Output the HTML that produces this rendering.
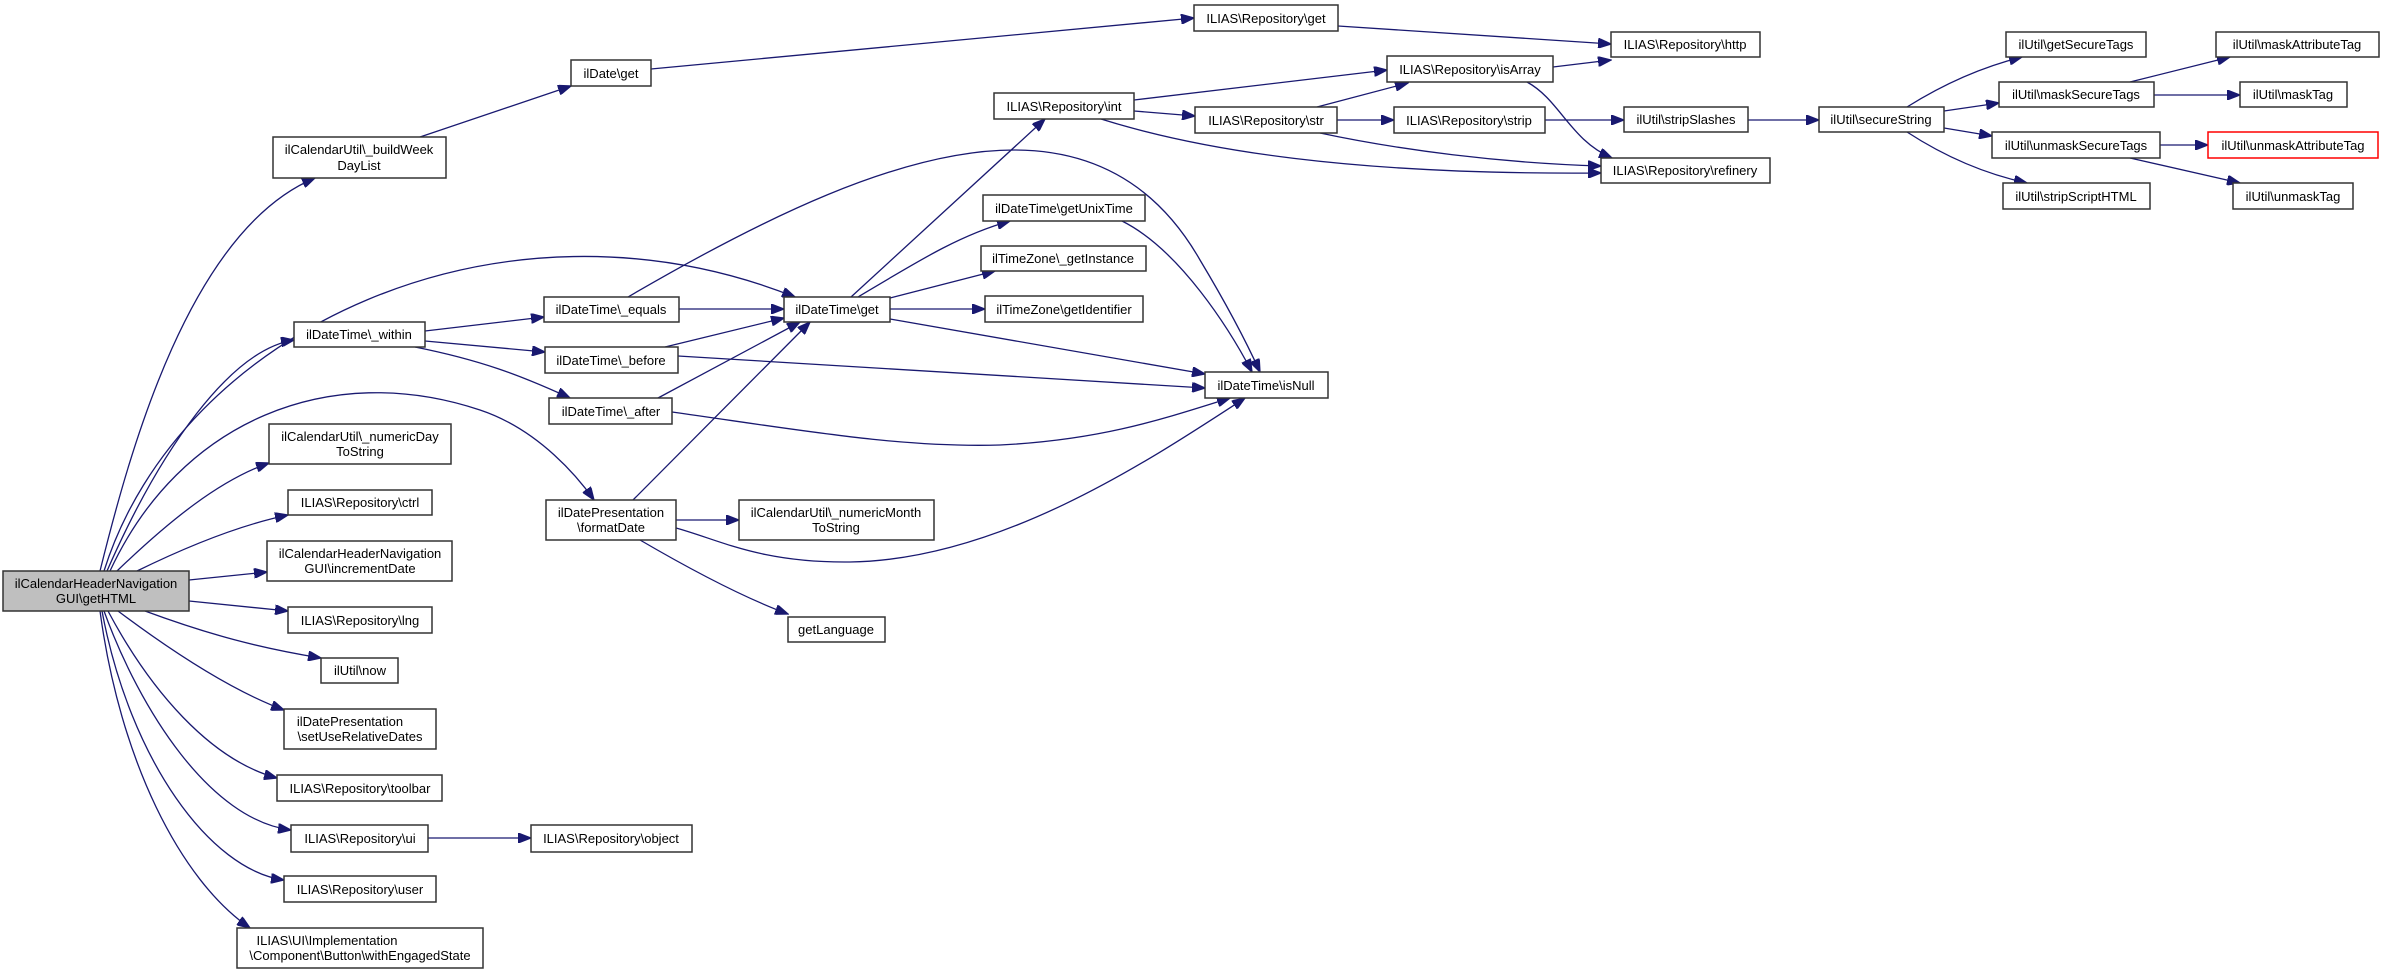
<!DOCTYPE html>
<html><head><meta charset="utf-8"><style>
html,body{margin:0;padding:0;background:#fff}
svg{display:block}
text{font-family:"Liberation Sans",sans-serif;font-size:13px;fill:#000;text-anchor:middle}
rect{fill:#fff;stroke:#333;stroke-width:1.5}
path{fill:none;stroke:#191970;stroke-width:1.3}
</style></head><body>
<svg width="2383" height="974" viewBox="0 0 2383 974" xmlns="http://www.w3.org/2000/svg">
<defs><marker id="a" markerUnits="userSpaceOnUse" markerWidth="14" markerHeight="10" refX="13" refY="5" orient="auto"><path d="M0,0 L13,5 L0,10 Z" style="fill:#191970;stroke:#191970"/></marker></defs>
<g marker-end="url(#a)">
<path d="M100,571 C130,450 190,230 315,178"/>
<path d="M104,571 C180,330 500,180 795,297"/>
<path d="M107,571 C160,450 230,350 294,340"/>
<path d="M110,571 C180,420 330,360 480,410 C540,430 580,480 594,500"/>
<path d="M117,571 C170,520 220,480 269,463"/>
<path d="M137,571 C190,545 240,525 288,515"/>
<path d="M189,580 L267,572"/>
<path d="M189,601 L288,611"/>
<path d="M145,611 C210,635 260,648 321,658"/>
<path d="M118,611 C170,650 230,690 284,710"/>
<path d="M108,611 C150,690 210,760 277,778"/>
<path d="M104,611 C140,710 210,820 291,830"/>
<path d="M102,611 C130,760 210,870 284,880"/>
<path d="M100,611 C120,760 180,880 250,928"/>
<path d="M420,137 L571,86"/>
<path d="M651,69 L1194,18"/>
<path d="M1338,26 L1611,44"/>
<path d="M1553,67 L1611,60"/>
<path d="M1134,100 L1387,70"/>
<path d="M1134,111 L1195,116"/>
<path d="M1101,119 C1200,150 1350,175 1601,173"/>
<path d="M1317,107 L1408,83"/>
<path d="M1337,120 L1394,120"/>
<path d="M1320,133 C1400,150 1500,163 1601,166"/>
<path d="M1527,82 C1560,100 1570,140 1612,158"/>
<path d="M1545,120 L1624,120"/>
<path d="M1748,120 L1819,120"/>
<path d="M1907,107 C1950,80 1990,65 2022,57"/>
<path d="M1944,111 L1999,103"/>
<path d="M1944,128 L1992,136"/>
<path d="M1907,132 C1950,160 1990,175 2027,183"/>
<path d="M2130,82 L2230,57"/>
<path d="M2154,95 L2240,95"/>
<path d="M2160,145 L2208,145"/>
<path d="M2130,158 L2240,183"/>
<path d="M851,297 L1045,119"/>
<path d="M858,297 C920,260 960,235 1010,221"/>
<path d="M890,298 L995,271"/>
<path d="M890,309 L985,309"/>
<path d="M890,319 L1205,374"/>
<path d="M679,309 L784,309"/>
<path d="M628,297 C760,220 900,150 1014,150 C1100,150 1160,190 1200,260 C1230,310 1250,350 1260,372"/>
<path d="M665,347 L784,318"/>
<path d="M678,356 L1205,388"/>
<path d="M658,398 L800,322"/>
<path d="M672,412 C800,430 900,448 1000,445 C1100,440 1160,420 1230,398"/>
<path d="M633,500 L810,322"/>
<path d="M676,520 L739,520"/>
<path d="M676,528 C720,540 760,563 850,562 C1000,560 1150,460 1245,398"/>
<path d="M640,540 C700,575 750,600 788,614"/>
<path d="M1122,221 C1180,250 1230,330 1252,372"/>
<path d="M425,331 L544,317"/>
<path d="M425,341 L545,352"/>
<path d="M415,347 C480,360 520,375 570,398"/>
<path d="M428,838 L531,838"/>
</g>
<rect x="3" y="571" width="186" height="40" style="fill:#bfbfbf"/><text x="96" y="588">ilCalendarHeaderNavigation</text><text x="96" y="603">GUI\getHTML</text>
<rect x="273" y="137" width="173" height="41"/><text x="359" y="154">ilCalendarUtil\_buildWeek</text><text x="359" y="170">DayList</text>
<rect x="571" y="60" width="80" height="26"/><text x="611" y="78">ilDate\get</text>
<rect x="294" y="322" width="131" height="25"/><text x="359" y="339">ilDateTime\_within</text>
<rect x="544" y="297" width="135" height="25"/><text x="611" y="314">ilDateTime\_equals</text>
<rect x="545" y="347" width="133" height="26"/><text x="611" y="365">ilDateTime\_before</text>
<rect x="549" y="398" width="123" height="26"/><text x="611" y="416">ilDateTime\_after</text>
<rect x="269" y="424" width="182" height="40"/><text x="360" y="441">ilCalendarUtil\_numericDay</text><text x="360" y="456">ToString</text>
<rect x="288" y="490" width="144" height="25"/><text x="360" y="507">ILIAS\Repository\ctrl</text>
<rect x="267" y="541" width="185" height="40"/><text x="360" y="558">ilCalendarHeaderNavigation</text><text x="360" y="573">GUI\incrementDate</text>
<rect x="288" y="607" width="144" height="26"/><text x="360" y="625">ILIAS\Repository\lng</text>
<rect x="321" y="658" width="77" height="25"/><text x="360" y="675">ilUtil\now</text>
<rect x="284" y="709" width="152" height="40"/><text x="350" y="726">ilDatePresentation</text><text x="360" y="741">\setUseRelativeDates</text>
<rect x="277" y="775" width="165" height="26"/><text x="360" y="793">ILIAS\Repository\toolbar</text>
<rect x="291" y="825" width="137" height="27"/><text x="360" y="843">ILIAS\Repository\ui</text>
<rect x="531" y="825" width="161" height="27"/><text x="611" y="843">ILIAS\Repository\object</text>
<rect x="284" y="876" width="152" height="26"/><text x="360" y="894">ILIAS\Repository\user</text>
<rect x="237" y="928" width="246" height="40"/><text x="327" y="945">ILIAS\UI\Implementation</text><text x="360" y="960">\Component\Button\withEngagedState</text>
<rect x="546" y="500" width="130" height="40"/><text x="611" y="517">ilDatePresentation</text><text x="611" y="532">\formatDate</text>
<rect x="784" y="297" width="106" height="25"/><text x="837" y="314">ilDateTime\get</text>
<rect x="739" y="500" width="195" height="40"/><text x="836" y="517">ilCalendarUtil\_numericMonth</text><text x="836" y="532">ToString</text>
<rect x="788" y="617" width="97" height="25"/><text x="836" y="634">getLanguage</text>
<rect x="1194" y="5" width="144" height="26"/><text x="1266" y="23">ILIAS\Repository\get</text>
<rect x="1387" y="56" width="166" height="26"/><text x="1470" y="74">ILIAS\Repository\isArray</text>
<rect x="994" y="93" width="140" height="26"/><text x="1064" y="111">ILIAS\Repository\int</text>
<rect x="1195" y="107" width="142" height="26"/><text x="1266" y="125">ILIAS\Repository\str</text>
<rect x="1394" y="107" width="151" height="26"/><text x="1469" y="125">ILIAS\Repository\strip</text>
<rect x="983" y="195" width="162" height="26"/><text x="1064" y="213">ilDateTime\getUnixTime</text>
<rect x="981" y="246" width="165" height="25"/><text x="1063" y="263">ilTimeZone\_getInstance</text>
<rect x="985" y="296" width="158" height="26"/><text x="1064" y="314">ilTimeZone\getIdentifier</text>
<rect x="1205" y="372" width="123" height="26"/><text x="1266" y="390">ilDateTime\isNull</text>
<rect x="1611" y="32" width="149" height="25"/><text x="1685" y="49">ILIAS\Repository\http</text>
<rect x="1624" y="107" width="124" height="25"/><text x="1686" y="124">ilUtil\stripSlashes</text>
<rect x="1601" y="158" width="169" height="25"/><text x="1685" y="175">ILIAS\Repository\refinery</text>
<rect x="1819" y="107" width="125" height="25"/><text x="1881" y="124">ilUtil\secureString</text>
<rect x="2006" y="32" width="140" height="25"/><text x="2076" y="49">ilUtil\getSecureTags</text>
<rect x="1999" y="82" width="155" height="25"/><text x="2076" y="99">ilUtil\maskSecureTags</text>
<rect x="1992" y="132" width="168" height="26"/><text x="2076" y="150">ilUtil\unmaskSecureTags</text>
<rect x="2003" y="183" width="147" height="26"/><text x="2076" y="201">ilUtil\stripScriptHTML</text>
<rect x="2216" y="32" width="163" height="25"/><text x="2297" y="49">ilUtil\maskAttributeTag</text>
<rect x="2240" y="82" width="107" height="25"/><text x="2293" y="99">ilUtil\maskTag</text>
<rect x="2208" y="132" width="170" height="26" style="stroke:#ff0000"/><text x="2293" y="150">ilUtil\unmaskAttributeTag</text>
<rect x="2233" y="183" width="120" height="26"/><text x="2293" y="201">ilUtil\unmaskTag</text>
</svg>
</body></html>
